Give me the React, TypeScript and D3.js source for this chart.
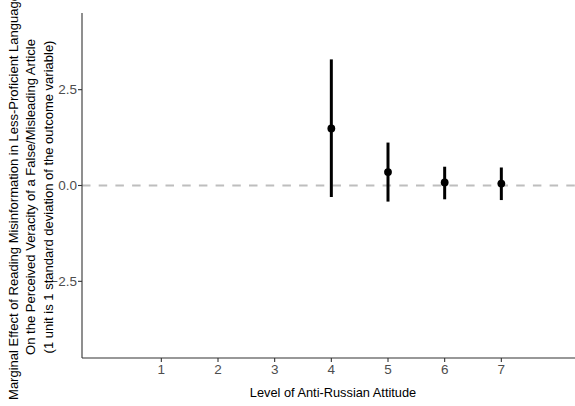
import React from "react";
import * as d3 from "d3";

const levels = [4, 5, 6, 7];
const estimates = [1.49, 0.35, 0.08, 0.05];
const lowers = [-0.3, -0.42, -0.36, -0.38];
const uppers = [3.29, 1.12, 0.49, 0.47];
const xTicks = [1, 2, 3, 4, 5, 6, 7];
const yTicks = [-2.5, 0, 2.5];
const yTitleLines = [
  "Marginal Effect of Reading Misinformation in Less-Proficient Language",
  "On the Perceived Veracity of a False/Misleading Article",
  "(1 unit is 1 standard deviation of the outcome variable)",
];
const xTitle = "Level of Anti-Russian Attitude";

const W = 575;
const H = 406;
const FONT = "'Liberation Sans', Arial, Helvetica, sans-serif";

export default function App() {
  const left = 82;
  const right = 575;
  const top = 13;
  const bottom = 358;

  const x = d3.scaleLinear().domain([-0.4, 8.3]).range([left, right]);
  const y = d3.scaleLinear().domain([-4.5, 4.5]).range([bottom, top]);
  const fmt = d3.format(".1f");

  const data = levels.map((lv, i) => ({
    lv,
    est: estimates[i],
    lo: lowers[i],
    hi: uppers[i],
  }));

  const titleCy = 197;
  const lineXs = [13, 30.5, 48];

  return (
    <svg
      width={W}
      height={H}
      style={{ position: "absolute", left: 0, top: 0, background: "#fff" }}
      fontFamily={FONT}
    >
      {/* zero reference line */}
      <line
        x1={left}
        x2={right}
        y1={y(0)}
        y2={y(0)}
        stroke="#bebebe"
        strokeWidth={2}
        strokeDasharray="8.5,8.2"
      />

      {/* confidence intervals and point estimates */}
      {data.map((d) => (
        <g key={d.lv}>
          <line
            x1={x(d.lv)}
            x2={x(d.lv)}
            y1={y(d.lo)}
            y2={y(d.hi)}
            stroke="#000"
            strokeWidth={3}
          />
          <circle cx={x(d.lv)} cy={y(d.est)} r={3.9} fill="#000" />
        </g>
      ))}

      {/* axes */}
      <line x1={left} x2={left} y1={top} y2={bottom} stroke="#333" strokeWidth={1.1} />
      <line x1={left} x2={right} y1={bottom} y2={bottom} stroke="#333" strokeWidth={1.1} />

      {yTicks.map((t) => (
        <g key={t}>
          <line x1={left - 4} x2={left} y1={y(t)} y2={y(t)} stroke="#333" strokeWidth={1.1} />
          <text
            x={left - 5}
            y={y(t)}
            dy="0.35em"
            textAnchor="end"
            fontSize={13.5}
            fill="#4d4d4d"
          >
            {fmt(t)}
          </text>
        </g>
      ))}

      {xTicks.map((t) => (
        <g key={t}>
          <line x1={x(t)} x2={x(t)} y1={bottom} y2={bottom + 4} stroke="#333" strokeWidth={1.1} />
          <text
            x={x(t)}
            y={bottom + 16}
            textAnchor="middle"
            fontSize={13.5}
            fill="#4d4d4d"
          >
            {t}
          </text>
        </g>
      ))}

      {/* axis titles */}
      <text
        x={333}
        y={397}
        textAnchor="middle"
        fontSize={12.8}
        fill="#000"
      >
        {xTitle}
      </text>

      {yTitleLines.map((line, i) => (
        <text
          key={i}
          transform={`translate(${lineXs[i]},${titleCy}) rotate(-90)`}
          dy="0.35em"
          textAnchor="middle"
          fontSize={13}
          fill="#000"
        >
          {line}
        </text>
      ))}
    </svg>
  );
}
